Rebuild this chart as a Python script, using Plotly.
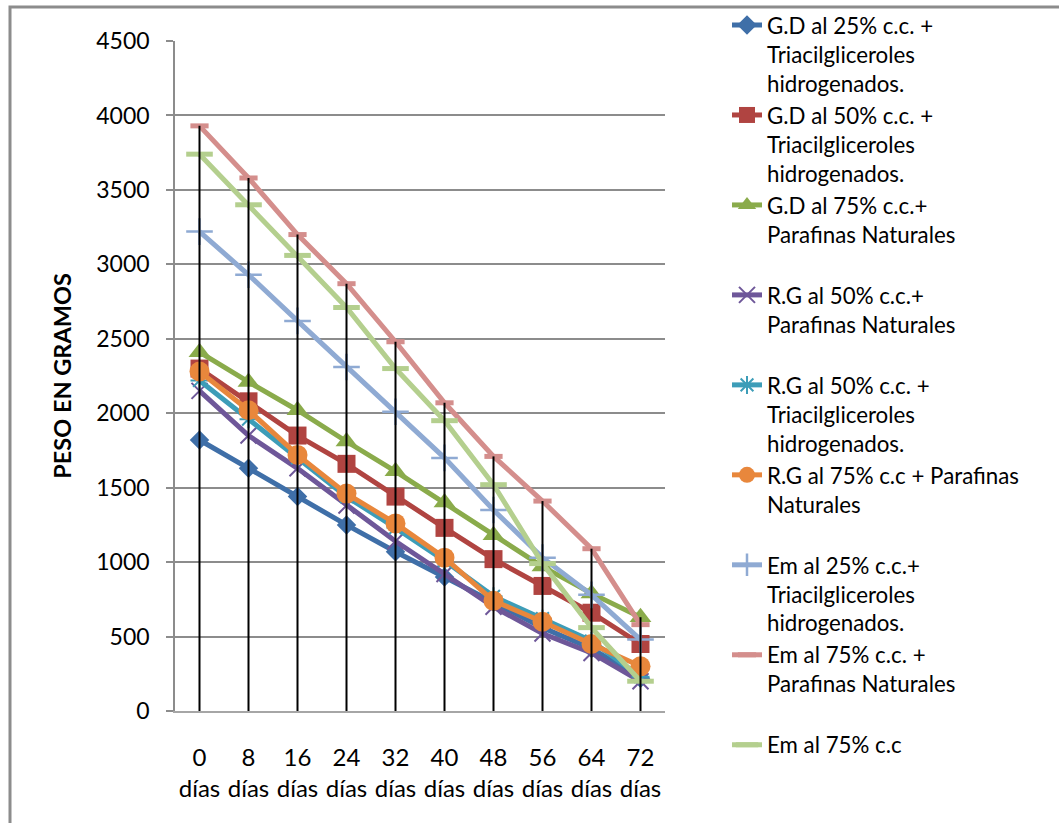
import plotly.graph_objects as go

# ---- data ----
days = [0, 8, 16, 24, 32, 40, 48, 56, 64, 72]
tick_labels = [f"{d}<br>días" for d in days]

gd25_tri = [1820, 1630, 1440, 1250, 1070, 900, 730, 560, 420, 220]
gd50_tri = [2300, 2080, 1850, 1660, 1440, 1230, 1020, 840, 660, 450]
gd75_par = [2410, 2210, 2020, 1810, 1610, 1400, 1180, 970, 790, 630]
rg50_par = [2150, 1850, 1630, 1380, 1140, 920, 700, 520, 390, 200]
rg50_tri = [2220, 1960, 1700, 1440, 1230, 1010, 770, 620, 470, 230]
rg75_par = [2280, 2020, 1720, 1460, 1260, 1030, 740, 600, 450, 300]
em25_tri = [3220, 2930, 2620, 2310, 2010, 1700, 1350, 1030, 780, 480]
em75_par = [3930, 3580, 3200, 2870, 2480, 2070, 1710, 1410, 1090, 580]
em75 = [3740, 3400, 3060, 2710, 2300, 1950, 1520, 990, 560, 200]

names = [
    "G.D al 25% c.c. +<br>Triacilgliceroles<br>hidrogenados.",
    "G.D al 50% c.c. +<br>Triacilgliceroles<br>hidrogenados.",
    "G.D al 75% c.c.+<br>Parafinas Naturales",
    "R.G al 50% c.c.+<br>Parafinas Naturales",
    "R.G al 50% c.c. +<br>Triacilgliceroles<br>hidrogenados.",
    "R.G al 75% c.c + Parafinas<br>Naturales",
    "Em al 25% c.c.+<br>Triacilgliceroles<br>hidrogenados.",
    "Em al 75% c.c. +<br>Parafinas Naturales",
    "Em al 75% c.c",
]
series = [gd25_tri, gd50_tri, gd75_par, rg50_par, rg50_tri, rg75_par, em25_tri, em75_par, em75]

# ---- styles ----
colors = ["#3F6FA8", "#B04441", "#8AAB4B", "#6E5799", "#3D9DB8", "#E8873C",
          "#8FAAD3", "#D48E8C", "#B4CF8E"]
markers = [
    dict(symbol="diamond", size=15),
    dict(symbol="square", size=18),
    dict(symbol="triangle-up", size=19),
    dict(symbol="x-thin-open", size=16, line=dict(width=2)),
    dict(symbol="asterisk-open", size=15, line=dict(width=2)),
    dict(symbol="circle", size=20),
    dict(symbol="cross-thin-open", size=19, line=dict(width=2.5)),
    dict(symbol="line-ew-open", size=13, line=dict(width=5)),
    dict(symbol="line-ew-open", size=19, line=dict(width=5)),
]

FONT = "Lato"
W, H = 1059, 823
L, R_px, T, B_px = 175, 665, 41, 711

fig = go.Figure()
for i, (nm, ys) in enumerate(zip(names, series)):
    n_lines = nm.count("<br>") + 1
    label = nm + "<br> " * (3 - n_lines) if i < len(names) - 1 else nm
    mk = dict(markers[i])
    mk["color"] = colors[i]
    if "line" in mk:
        mk["line"] = dict(mk["line"], color=colors[i])
    fig.add_trace(go.Scatter(
        x=tick_labels, y=ys, name=label, mode="lines+markers",
        line=dict(color=colors[i], width=5), marker=mk,
        legendgroup=f"g{i}",
    ))

# drop lines from the highest value at each category down to the axis
tops = [max(s[k] for s in series) for k in range(len(days))]
dx, dy = [], []
for lab, top in zip(tick_labels, tops):
    dx += [lab, lab, None]
    dy += [0, top, None]
fig.add_trace(go.Scatter(x=dx, y=dy, mode="lines", line=dict(color="black", width=2),
                         showlegend=False, hoverinfo="skip"))

def px_x(p):
    return (p - L) / (R_px - L)

def px_y(p):
    return (B_px - p) / (B_px - T)

fig.update_layout(
    width=W, height=H,
    margin=dict(l=L, r=W - R_px, t=T, b=H - B_px, autoexpand=False),
    paper_bgcolor="white", plot_bgcolor="white",
    font=dict(family=FONT, size=23, color="black"),
    showlegend=True,
    legend=dict(
        x=px_x(727), y=px_y(4), xanchor="left", yanchor="top",
        font=dict(family=FONT, size=22.3, color="black"),
        valign="top", tracegroupgap=0, itemwidth=30,
        bgcolor="rgba(0,0,0,0)", maxheight=823,
    ),
    xaxis=dict(
        type="category", range=[-0.5, 9.5],
        showgrid=False, showline=True, linecolor="#A6A6A6", linewidth=2,
        ticks="", tickfont=dict(family=FONT, size=24, color="black"),
        ticklabelstandoff=24, zeroline=False,
    ),
    yaxis=dict(
        range=[0, 4500], dtick=500, tickmode="linear",
        showgrid=True, gridcolor="#8C8C8C", gridwidth=1.5,
        showline=True, linecolor="#8C8C8C", linewidth=1.5,
        ticks="outside", ticklen=7, tickcolor="#8C8C8C", tickwidth=1.5,
        tickfont=dict(family=FONT, size=23, color="black"),
        ticklabelstandoff=12, zeroline=False,
        title=dict(text="<b>PESO EN GRAMOS</b>", font=dict(family=FONT, size=23.5, color="black"),
                   standoff=18),
    ),
    shapes=[dict(type="rect", xref="paper", yref="paper",
                 x0=px_x(10), x1=px_x(1066), y0=px_y(830), y1=px_y(7),
                 line=dict(color="#8C8C8C", width=3), fillcolor="rgba(0,0,0,0)",
                 layer="below")],
)

fig.write_html("out.html")
